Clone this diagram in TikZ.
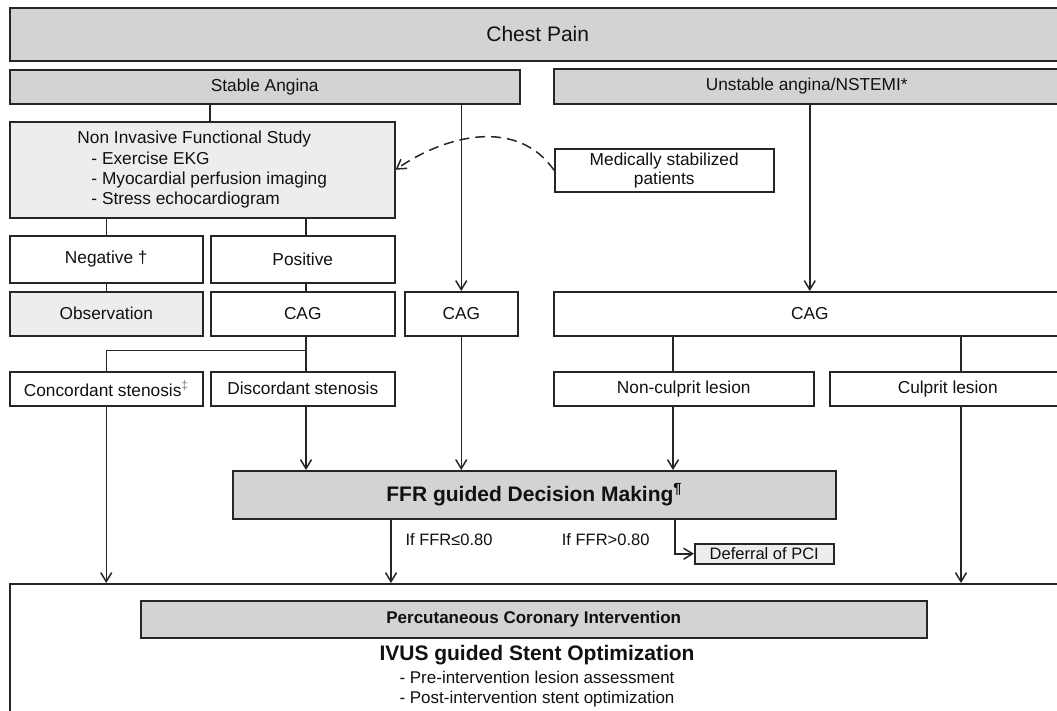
\documentclass[tikz,border=0pt]{standalone}
\usepackage{fontspec}
\setmainfont{Liberation Sans}
\usetikzlibrary{arrows.meta,positioning,calc}
\definecolor{boxgray}{HTML}{D3D3D3}
\definecolor{palegray}{HTML}{EDEDED}
\definecolor{edgegray}{HTML}{262626}
\definecolor{inkgray}{HTML}{111111}
\newcommand{\bodyfont}{\fontsize{17.3}{20}\selectfont}
\newcommand{\bigbold}{\fontsize{21}{24}\selectfont\bfseries}

\begin{document}
\begin{tikzpicture}[x=1pt, y=-1pt, >={Straight Barb[length=9pt,width=11pt]},
    box/.style={draw=edgegray, line width=1.5pt, anchor=north west, inner sep=0pt,
                text=inkgray, font=\bodyfont},
    darkbox/.style={box, fill=boxgray},
    palebox/.style={box, fill=palegray},
    plainbox/.style={box, fill=white},
    link/.style={draw=edgegray, line width=1.5pt},
    note/.style={text=inkgray, inner sep=0pt}]
  \useasboundingbox (0,0) rectangle (1057,710);
  \clip (0,0) rectangle (1057,710);
  \fill[white] (0,0) rectangle (1057,710);

  % column positions
  \coordinate (xa) at (210,0);
  \coordinate (xb) at (306,0);
  \coordinate (xf) at (673,0);
  \coordinate (xg) at (961,0);
  \coordinate (xh) at (391,0);
  \coordinate (xd) at (675,0);

  % top rows
  \node[darkbox, minimum width=1056, minimum height=53, font=\fontsize{21}{24}\selectfont]
       (chest) at (9,7) {Chest Pain};
  \node[darkbox, minimum width=510, minimum height=34] (stable) at (9,69) {Stable Angina};
  \node[darkbox, minimum width=506, minimum height=35] (unstable) at (553,68)
       {Unstable angina/NSTEMI*};

  \node[palebox, minimum width=385, minimum height=96, align=left,
        font=\fontsize{17.3}{20.3}\selectfont] (noninv) at (9,121)
       {Non Invasive Functional Study\\
        \hspace*{14pt}- Exercise EKG\\
        \hspace*{14pt}- Myocardial perfusion imaging\\
        \hspace*{14pt}- Stress echocardiogram};
  \node[plainbox, minimum width=219, minimum height=43, align=center,
        font=\fontsize{17.3}{19}\selectfont] (medic) at (554,148)
       {Medically stabilized\\patients};

  % test result and angiography rows
  \node[plainbox, minimum width=193, minimum height=47] (neg) at (9,235) {Negative †};
  \node[plainbox, minimum width=184, minimum height=47] (pos) at (210,235) {Positive};
  \node[palebox, minimum width=193, minimum height=44] (obs) at (9,291) {Observation};
  \node[plainbox, minimum width=184, minimum height=44] (cagA) at (210,291) {CAG};
  \node[plainbox, minimum width=113, minimum height=44] (cagB) at (404,291) {CAG};
  \node[plainbox, minimum width=512, minimum height=44] (cagC) at (553,291) {CAG};

  \node[plainbox, minimum width=193, minimum height=34] (conc) at (9,371)
       {Concordant stenosis\textsuperscript{\color{gray}‡}};
  \node[plainbox, minimum width=184, minimum height=34] (disc) at (210,371)
       {Discordant stenosis};
  \node[plainbox, minimum width=260, minimum height=34] (noncul) at (553,371)
       {Non-culprit lesion};
  \node[plainbox, minimum width=236, minimum height=34] (cul) at (829,371)
       {Culprit lesion};

  % decision
  \node[darkbox, minimum width=603, minimum height=48, font=\bigbold] (ffr) at (232,470)
       {FFR guided Decision Making\textsuperscript{¶}};
  \node[palebox, minimum width=139, minimum height=20,
        font=\fontsize{16.5}{18}\selectfont] (defer) at (694,543) {Deferral of PCI};
  \node[note, font=\fontsize{16.5}{18}\selectfont] (low) at (449,540) {If FFR≤0.80};
  \node[note, font=\fontsize{16.5}{18}\selectfont, right=69pt of low] (high) {If FFR>0.80};

  % intervention
  \node[plainbox, minimum width=1060, minimum height=160] (bottom) at (9,583) {};
  \node[darkbox, minimum width=786, minimum height=37,
        font=\fontsize{17}{20}\selectfont\bfseries] (pci) at (140,600)
       {Percutaneous Coronary Intervention};
  \node[note, font=\bigbold] (ivus) at (537,655) {IVUS guided Stent Optimization};
  \node[note, align=left, font=\fontsize{17}{20}\selectfont, below=6pt of ivus] (steps)
       {- Pre-intervention lesion assessment\\
        - Post-intervention stent optimization};

  % connectors
  \draw[link] (stable.south -| xa) -- (noninv.north -| xa);
  \draw[link,->] (stable.south -| cagB) -- (cagB.north);
  \draw[link,->] (unstable.south -| cagC) -- (cagC.north);
  \draw[link,dashed,dash pattern=on 10pt off 6pt,->] (medic.west)
       .. controls +(-36,-52) and +(52,-36) .. (noninv.east);

  \draw[link] (noninv.south -| neg) -- (neg.north);
  \draw[link] (noninv.south -| xb) -- (pos.north -| xb);
  \draw[link] (neg) -- (obs);
  \draw[link] (pos.south -| xb) -- (cagA.north -| xb);

  \coordinate (split) at ($(cagA.south -| xb)+(0,14)$);
  \draw[link] (cagA.south -| xb) -- (disc.north -| xb);
  \draw[link] (split) -| (conc.north);
  \draw[link] (cagC.south -| xf) -- (noncul.north -| xf);
  \draw[link] (cagC.south -| xg) -- (cul.north -| xg);

  \draw[link,->] (disc.south -| xb) -- (ffr.north -| xb);
  \draw[link,->] (cagB.south) -- (ffr.north -| cagB);
  \draw[link,->] (noncul.south -| xf) -- (ffr.north -| xf);

  \draw[link,->] (conc.south) -- (bottom.north -| conc);
  \draw[link,->] (cul.south -| xg) -- (bottom.north -| xg);
  \draw[link,->] (ffr.south -| xh) -- (bottom.north -| xh);
  \draw[link,->] (ffr.south -| xd) |- (defer.west);
\end{tikzpicture}
\end{document}
